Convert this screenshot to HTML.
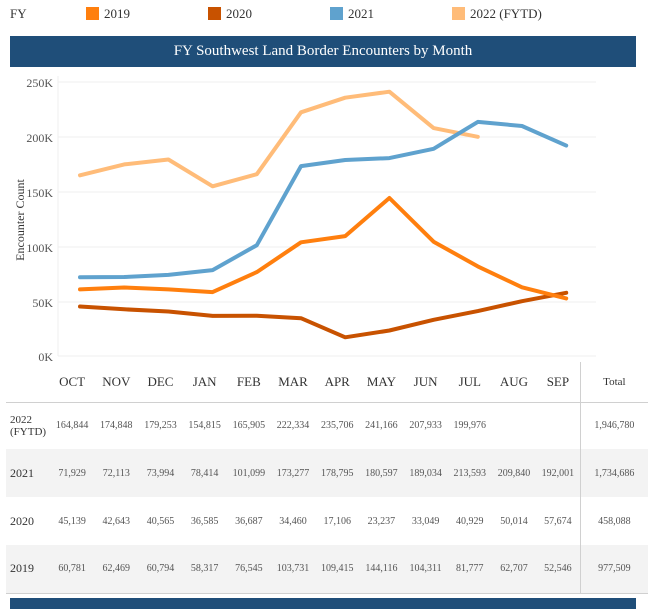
<!DOCTYPE html>
<html><head><meta charset="utf-8"><style>
body{margin:0;width:659px;height:609px;background:#fff;font-family:"Liberation Serif",serif;overflow:hidden;position:relative}
.abs{position:absolute}
.leg{top:6px;font-size:13px;color:#333}
.sw{width:13px;height:13px;top:7px}
td{padding:0;text-align:center;font-size:10px;color:#555}
</style></head><body>
<div class="abs leg" style="left:10px">FY</div>
<div class="abs sw" style="left:86px;background:#ff7f0e"></div><div class="abs leg" style="left:104px">2019</div>
<div class="abs sw" style="left:208px;background:#c85200"></div><div class="abs leg" style="left:226px">2020</div>
<div class="abs sw" style="left:330px;background:#5fa2ce"></div><div class="abs leg" style="left:348px">2021</div>
<div class="abs sw" style="left:452px;background:#ffbc79"></div><div class="abs leg" style="left:470px">2022 (FYTD)</div>
<div class="abs" style="left:10px;top:36px;width:626px;height:31px;background:#1f4e79;color:#fff;font-size:15px;text-align:center;line-height:31px">FY Southwest Land Border Encounters by Month</div>
<svg class="abs" style="left:0;top:0" width="659" height="609">
<g stroke="#efefef" stroke-width="1">
<line x1="58" x2="596" y1="82" y2="82"/><line x1="58" x2="596" y1="137" y2="137"/><line x1="58" x2="596" y1="192" y2="192"/><line x1="58" x2="596" y1="247" y2="247"/><line x1="58" x2="596" y1="302" y2="302"/><line x1="58" x2="596" y1="356" y2="356"/><line x1="58" x2="58" y1="76" y2="356"/>
</g>
<g font-size="12" fill="#555" text-anchor="end" font-family="Liberation Serif,serif">
<text x="53" y="87">250K</text><text x="53" y="142">200K</text><text x="53" y="197">150K</text><text x="53" y="252">100K</text><text x="53" y="307">50K</text><text x="53" y="361">0K</text>
</g>
<text transform="translate(24,220) rotate(-90)" font-size="12" fill="#333" text-anchor="middle" font-family="Liberation Serif,serif">Encounter Count</text>
<g fill="none" stroke-width="4" stroke-linejoin="round" stroke-linecap="round">
<polyline stroke="#ffbc79" points="80,175.3 124.2,164.4 168.4,159.5 212.6,186.3 256.8,174.2 301,112.3 345.2,97.7 389.4,91.7 433.6,128.1 477.8,136.8"/>
<polyline stroke="#5fa2ce" points="80,277.2 124.2,277 168.4,274.9 212.6,270.1 256.8,245.2 301,166.1 345.2,160 389.4,158.1 433.6,148.8 477.8,121.9 522,126 566.2,145.6"/>
<polyline stroke="#c85200" points="80,306.5 124.2,309.3 168.4,311.5 212.6,315.9 256.8,315.8 301,318.2 345.2,337.3 389.4,330.5 433.6,319.8 477.8,311.1 522,301.2 566.2,292.8"/>
<polyline stroke="#ff7f0e" points="80,289.4 124.2,287.5 168.4,289.4 212.6,292.1 256.8,272.1 301,242.3 345.2,236.1 389.4,198 433.6,241.7 477.8,266.4 522,287.3 566.2,298.4"/>
</g>
</svg>
<table class="abs" style="left:6px;top:362px;width:642px;border-collapse:collapse;table-layout:fixed">
<colgroup><col style="width:44px"><col span="12" style="width:44.2px"><col style="width:67.6px"></colgroup>
<tr style="height:40px;border-bottom:1px solid #d0d0d0"><td></td><td style="font-size:13px;color:#333">OCT</td><td style="font-size:13px;color:#333">NOV</td><td style="font-size:13px;color:#333">DEC</td><td style="font-size:13px;color:#333">JAN</td><td style="font-size:13px;color:#333">FEB</td><td style="font-size:13px;color:#333">MAR</td><td style="font-size:13px;color:#333">APR</td><td style="font-size:13px;color:#333">MAY</td><td style="font-size:13px;color:#333">JUN</td><td style="font-size:13px;color:#333">JUL</td><td style="font-size:13px;color:#333">AUG</td><td style="font-size:13px;color:#333">SEP</td><td style="border-left:1px solid #d0d0d0;color:#333;font-size:11px">Total</td></tr>
<tr style="height:47px"><td style="text-align:left;font-size:11px;color:#333;padding-left:4px;line-height:12px">2022<br>(FYTD)</td><td>164,844</td><td>174,848</td><td>179,253</td><td>154,815</td><td>165,905</td><td>222,334</td><td>235,706</td><td>241,166</td><td>207,933</td><td>199,976</td><td></td><td></td><td style="border-left:1px solid #d0d0d0">1,946,780</td></tr>
<tr style="height:48px;background:#f3f3f3"><td style="text-align:left;font-size:12px;color:#333;padding-left:4px">2021</td><td>71,929</td><td>72,113</td><td>73,994</td><td>78,414</td><td>101,099</td><td>173,277</td><td>178,795</td><td>180,597</td><td>189,034</td><td>213,593</td><td>209,840</td><td>192,001</td><td style="border-left:1px solid #d0d0d0">1,734,686</td></tr>
<tr style="height:48px"><td style="text-align:left;font-size:12px;color:#333;padding-left:4px">2020</td><td>45,139</td><td>42,643</td><td>40,565</td><td>36,585</td><td>36,687</td><td>34,460</td><td>17,106</td><td>23,237</td><td>33,049</td><td>40,929</td><td>50,014</td><td>57,674</td><td style="border-left:1px solid #d0d0d0">458,088</td></tr>
<tr style="height:48px;background:#f3f3f3;border-bottom:1px solid #d0d0d0"><td style="text-align:left;font-size:12px;color:#333;padding-left:4px">2019</td><td>60,781</td><td>62,469</td><td>60,794</td><td>58,317</td><td>76,545</td><td>103,731</td><td>109,415</td><td>144,116</td><td>104,311</td><td>81,777</td><td>62,707</td><td>52,546</td><td style="border-left:1px solid #d0d0d0">977,509</td></tr>
</table>
<div class="abs" style="left:10px;top:598px;width:626px;height:11px;background:#1f4e79"></div>
</body></html>
